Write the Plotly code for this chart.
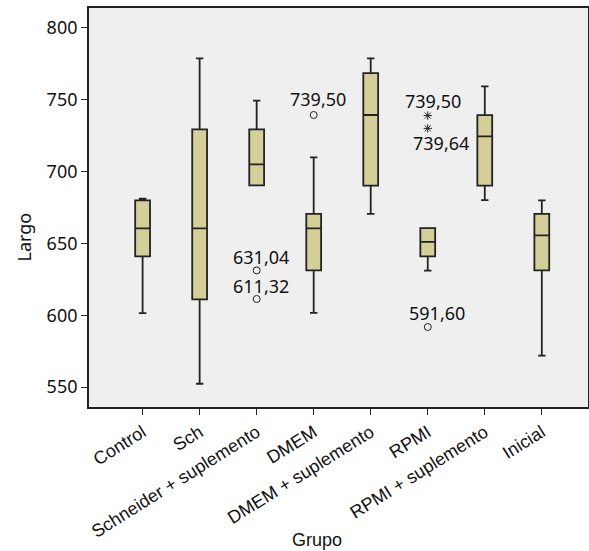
import plotly.graph_objects as go

# ---- data ----
groups = ["Control", "Sch", "Schneider + suplemento", "DMEM",
          "DMEM + suplemento", "RPMI", "RPMI + suplemento", "Inicial"]
lower_whisker = [601.5, 552.3, 690.4, 601.7, 670.5, 631.0, 680.2, 571.8]
q1_values     = [641.0, 611.0, 690.4, 631.2, 690.2, 641.0, 690.2, 631.2]
median_values = [660.5, 660.5, 705.0, 660.5, 739.4, 651.0, 724.5, 655.6]
q3_values     = [680.0, 729.4, 729.4, 670.5, 768.6, 660.7, 739.3, 670.5]
upper_whisker = [681.1, 778.8, 749.4, 709.9, 778.8, 660.7, 759.4, 680.0]

outlier_groups = ["Schneider + suplemento", "Schneider + suplemento", "DMEM", "RPMI"]
outlier_values = [631.2, 611.3, 739.4, 591.8]
outlier_labels = ["631,04", "611,32", "739,50", "591,60"]

extreme_groups = ["RPMI", "RPMI"]
extreme_values = [739.0, 730.1]
extreme_labels = ["739,50", "739,64"]

y_ticks = [550, 600, 650, 700, 750, 800]

# ---- styling ----
outlier_label_shift = [(4, 13), (4, 13), (4, 16), (9, 14)]
extreme_label_shift = [(5, 15), (13, -15)]
box_fill = "#d4cf98"
ink = "#222222"
num_font = dict(family="Noto Sans", size=18, color="#111111")
cat_font = dict(family="Liberation Sans", size=18, color="#111111")

fig = go.Figure()

for i, g in enumerate(groups):
    fig.add_trace(go.Box(
        x=[g], q1=[q1_values[i]], median=[median_values[i]], q3=[q3_values[i]],
        lowerfence=[lower_whisker[i]], upperfence=[upper_whisker[i]],
        fillcolor=box_fill, line=dict(color=ink, width=1.8),
        width=0.26, whiskerwidth=0.5, boxpoints=False,
        showlegend=False, hoverinfo="skip",
    ))

fig.add_trace(go.Scatter(
    x=outlier_groups, y=outlier_values, mode="markers",
    marker=dict(symbol="circle-open", size=7, color=ink, line=dict(width=1)),
    showlegend=False, hoverinfo="skip",
))
fig.add_trace(go.Scatter(
    x=extreme_groups, y=extreme_values, mode="markers",
    marker=dict(symbol="asterisk-open", size=7, color=ink, line=dict(width=1, color=ink)),
    showlegend=False, hoverinfo="skip",
))

annotations = []
for g, v, lab, (dx, dy) in zip(outlier_groups, outlier_values, outlier_labels, outlier_label_shift):
    annotations.append(dict(x=g, y=v, text=lab, showarrow=False, xshift=dx, yshift=dy,
                            font=num_font, xref="x", yref="y"))
for g, v, lab, (dx, dy) in zip(extreme_groups, extreme_values, extreme_labels, extreme_label_shift):
    annotations.append(dict(x=g, y=v, text=lab, showarrow=False, xshift=dx, yshift=dy,
                            font=num_font, xref="x", yref="y"))

# axis titles placed as in the reference
annotations.append(dict(text="Grupo", xref="paper", yref="paper", x=0.457, y=-0.333,
                        xanchor="center", yanchor="middle", showarrow=False,
                        font=dict(family="Liberation Sans", size=18, color="#111111")))
annotations.append(dict(text="Largo", xref="paper", yref="paper", x=-0.13, y=0.425,
                        xanchor="center", yanchor="middle", textangle=-90, showarrow=False,
                        font=num_font))

fig.update_layout(
    width=589, height=551,
    margin=dict(l=89, r=1, t=8, b=144),
    paper_bgcolor="white", plot_bgcolor="#efefef",
    annotations=annotations,
    xaxis=dict(
        type="category", categoryorder="array", categoryarray=groups,
        range=[-0.94, 7.81], tickangle=-32, tickfont=cat_font,
        showline=True, linecolor=ink, linewidth=1.8, mirror=True,
        ticks="outside", ticklen=6, tickcolor=ink, tickwidth=1.2,
        showgrid=False, zeroline=False, automargin=False,
    ),
    yaxis=dict(
        range=[536.1, 813.9], tickvals=y_ticks, tickfont=num_font,
        showline=True, linecolor=ink, linewidth=1.8, mirror=True,
        ticks="outside", ticklen=6, tickcolor=ink, tickwidth=1.2,
        showgrid=False, zeroline=False, automargin=False,
    ),
)

fig.write_html("out.html", config={"displayModeBar": False},
               post_script="document.body.style.margin='0';document.body.style.padding='0';")
